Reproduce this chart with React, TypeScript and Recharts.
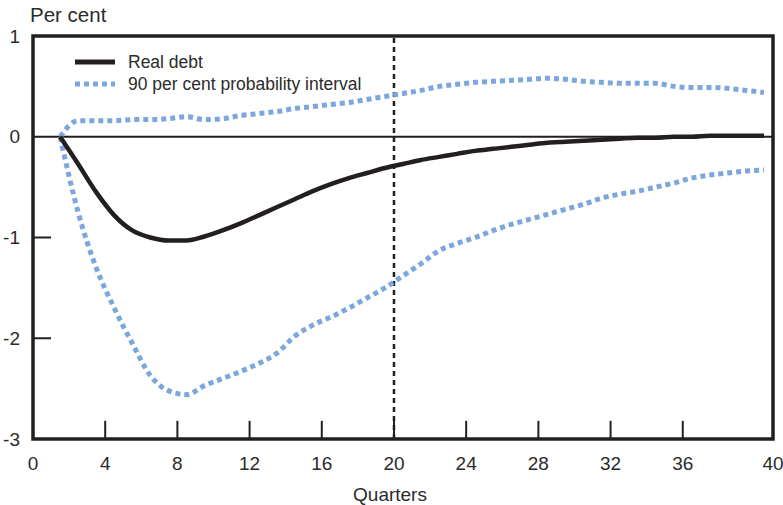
import {
  LineChart,
  Line,
  XAxis,
  YAxis,
  ReferenceLine,
  ReferenceArea,
} from 'recharts';

const quarters = [
  1, 2, 3, 4, 5, 6, 7, 8, 9, 10, 11, 12, 13, 14, 15, 16, 17, 18, 19, 20,
  21, 22, 23, 24, 25, 26, 27, 28, 29, 30, 31, 32, 33, 34, 35, 36, 37, 38, 39, 40,
];

const realDebt = [
  0, -0.27, -0.55, -0.78, -0.93, -1.0, -1.03, -1.03, -0.99, -0.93,
  -0.86, -0.78, -0.7, -0.62, -0.54, -0.47, -0.41, -0.36, -0.31, -0.27,
  -0.23, -0.2, -0.17, -0.14, -0.12, -0.1, -0.08, -0.06, -0.05, -0.04,
  -0.03, -0.02, -0.01, -0.01, 0, 0, 0.01, 0.01, 0.01, 0.01,
];

const upper = [
  0, 0.16, 0.16, 0.16, 0.17, 0.17, 0.18, 0.2, 0.17, 0.18,
  0.21, 0.23, 0.25, 0.28, 0.3, 0.32, 0.34, 0.37, 0.4, 0.43,
  0.46, 0.5, 0.52, 0.54, 0.55, 0.56, 0.57, 0.58, 0.57, 0.55,
  0.54, 0.53, 0.53, 0.53, 0.5, 0.49, 0.49, 0.48, 0.46, 0.44,
];

const lower = [
  0, -0.75, -1.3, -1.7, -2.05, -2.37, -2.52, -2.56, -2.47, -2.4,
  -2.33, -2.25, -2.15, -1.98, -1.87, -1.79, -1.7, -1.6, -1.5, -1.38,
  -1.26, -1.13, -1.06, -1.0, -0.93, -0.87, -0.82, -0.77, -0.72, -0.67,
  -0.61, -0.57, -0.54, -0.5, -0.46, -0.41, -0.38, -0.36, -0.34, -0.33,
];

// axis labels and where they sit on the quarter scale
const xTickLabels = ['0', '4', '8', '12', '16', '20', '24', '28', '32', '36', '40'];
const xTickValues = [-0.5, 3.5, 7.5, 11.5, 15.5, 19.5, 23.5, 27.5, 31.5, 35.5, 40.5];
const yTicks = [-3, -2, -1, 0, 1];

const X_MIN = -0.5;
const X_MAX = 40.5;
const Y_MIN = -3;
const Y_MAX = 1;

const INK = '#231f20';
const TEXT = '#2b2b2b';
const BLUE = '#7ba7dc';
const FONT = '"Liberation Sans", Arial, sans-serif';

const data = quarters.map((q, i) => ({
  q,
  debt: realDebt[i],
  upper: upper[i],
  lower: lower[i],
}));

function LegendBox() {
  return (
    <div
      style={{
        position: 'absolute',
        left: 75,
        top: 51,
        fontFamily: FONT,
        fontSize: 17.5,
        color: TEXT,
        lineHeight: '22px',
      }}
    >
      <div style={{ display: 'flex', alignItems: 'center' }}>
        <svg width={42} height={10} style={{ marginRight: 11 }}>
          <line x1={0} y1={5} x2={40} y2={5} stroke={INK} strokeWidth={5} />
        </svg>
        Real debt
      </div>
      <div style={{ display: 'flex', alignItems: 'center' }}>
        <svg width={42} height={10} style={{ marginRight: 11 }}>
          <line x1={0} y1={5} x2={40} y2={5} stroke={BLUE} strokeWidth={5} strokeDasharray="5 4" />
        </svg>
        90 per cent probability interval
      </div>
    </div>
  );
}

export default function App() {
  const xTickLen = 1.0; // in quarters
  const yTickLen = 0.18; // in per cent
  return (
    <div style={{ position: 'absolute', left: 0, top: 0, width: 783, height: 505, background: '#fff' }}>
      <div
        style={{
          position: 'absolute',
          left: 30,
          top: 3,
          fontFamily: FONT,
          fontSize: 20.5,
          color: TEXT,
        }}
      >
        Per cent
      </div>
      <LineChart
        width={783}
        height={505}
        data={data}
        margin={{ top: 36, right: 10, bottom: 26, left: 0 }}
      >
        <XAxis
          dataKey="q"
          type="number"
          domain={[X_MIN, X_MAX]}
          ticks={xTickValues}
          tickFormatter={(v: number) => xTickLabels[xTickValues.indexOf(v)]}
          axisLine={false}
          tickLine={false}
          tickMargin={12}
          height={40}
          interval={0}
          tick={{ fill: TEXT, fontSize: 19, fontFamily: FONT }}
          label={{
            value: 'Quarters',
            position: 'insideBottom',
            offset: -22,
            dx: -13,
            fill: TEXT,
            fontSize: 19,
            fontFamily: FONT,
          }}
        />
        <YAxis
          type="number"
          domain={[Y_MIN, Y_MAX]}
          ticks={yTicks}
          axisLine={false}
          tickLine={false}
          tickMargin={7}
          width={33}
          interval={0}
          tick={{ fill: TEXT, fontSize: 19, fontFamily: FONT }}
        />
        <ReferenceLine y={0} stroke={INK} strokeWidth={2} />
        <ReferenceLine x={19.5} stroke={INK} strokeWidth={2.5} strokeDasharray="5 4" />
        {xTickValues.slice(1, -1).map((v) => (
          <ReferenceLine
            key={'xt' + v}
            segment={[
              { x: v, y: Y_MIN },
              { x: v, y: Y_MIN + yTickLen },
            ]}
            stroke={INK}
            strokeWidth={2}
          />
        ))}
        {yTicks.slice(1, 3).map((v) => (
          <ReferenceLine
            key={'yt' + v}
            segment={[
              { x: X_MIN, y: v },
              { x: X_MIN + xTickLen, y: v },
            ]}
            stroke={INK}
            strokeWidth={2}
          />
        ))}
        <Line
          dataKey="upper"
          type="monotone"
          stroke={BLUE}
          strokeWidth={5}
          strokeDasharray="5 4"
          dot={false}
          isAnimationActive={false}
        />
        <Line
          dataKey="lower"
          type="monotone"
          stroke={BLUE}
          strokeWidth={5}
          strokeDasharray="5 4"
          dot={false}
          isAnimationActive={false}
        />
        <Line
          dataKey="debt"
          type="monotone"
          stroke={INK}
          strokeWidth={4.5}
          dot={false}
          isAnimationActive={false}
        />
        <ReferenceArea
          x1={X_MIN}
          x2={X_MAX}
          y1={Y_MIN}
          y2={Y_MAX}
          ifOverflow="visible"
          fill="none"
          fillOpacity={0}
          stroke={INK}
          strokeWidth={3.5}
        />
      </LineChart>
      <LegendBox />
    </div>
  );
}
